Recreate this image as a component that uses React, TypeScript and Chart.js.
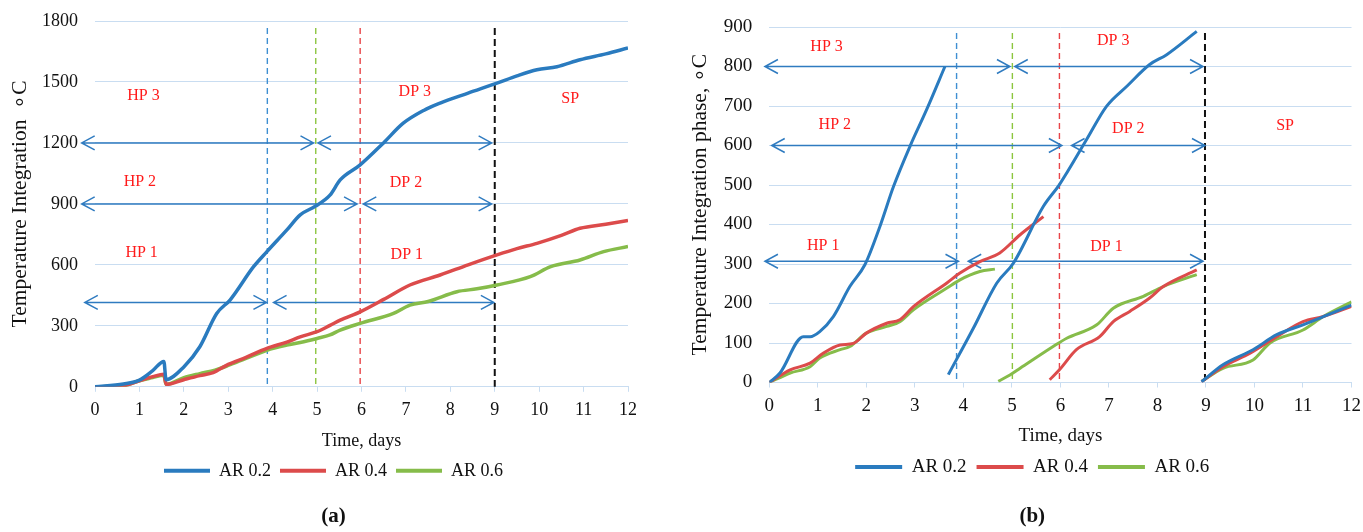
import React, { useEffect, useRef } from "react";
import { Chart, registerables } from "chart.js";

Chart.register(...registerables);

const FONT = "'Liberation Serif', 'Times New Roman', serif";

// ---------- Shared ----------
const seriesNames = ["AR 0.2", "AR 0.4", "AR 0.6"];
const xTickMin = 0;
const xTickMax = 12;

// ---------- Chart (a) data ----------
const aX02 = [0, 0.64, 1.0, 1.3, 1.55, 1.6, 2.0, 2.36, 2.74, 3.04, 3.57, 3.87, 4.32, 4.62, 4.95, 5.29, 5.52, 5.97, 6.49, 6.94, 7.4, 7.77, 8.4, 9.05, 9.5, 9.95, 10.4, 10.92, 11.5, 12];
const aY02 = [0, 14, 33, 80, 125, 35, 98, 197, 361, 427, 591, 665, 772, 846, 887, 943, 1018, 1092, 1199, 1297, 1360, 1396, 1445, 1494, 1530, 1560, 1575, 1609, 1638, 1667];
const aX04 = [0, 0.64, 1.0, 1.3, 1.55, 1.6, 2.0, 2.36, 2.66, 3.0, 3.4, 3.87, 4.32, 4.62, 5.0, 5.29, 5.52, 5.97, 6.5, 7.09, 7.77, 8.4, 9.05, 9.5, 9.95, 10.5, 10.92, 11.5, 12];
const aY04 = [0, 6, 30, 50, 62, 12, 35, 55, 70, 110, 145, 189, 220, 246, 271, 302, 328, 369, 430, 501, 550, 600, 649, 680, 706, 745, 780, 800, 818];
const aX06 = [0, 0.64, 1.0, 1.3, 1.55, 1.6, 2.0, 2.36, 2.7, 3.0, 3.4, 3.87, 4.32, 4.62, 5.0, 5.29, 5.52, 5.97, 6.72, 7.09, 7.5, 8.15, 8.6, 9.05, 9.8, 10.26, 10.92, 11.45, 12];
const aY06 = [0, 5, 30, 45, 57, 12, 45, 65, 82, 105, 140, 180, 205, 218, 238, 255, 279, 312, 361, 402, 420, 468, 482, 501, 542, 591, 624, 665, 690];
const aYMax = 1800;
const aYStep = 300;
const aBoundaries = [3.88, 4.97, 5.97, 9.0];
const aBoundaryTop = 1765;
// arrows: [y, xStart, xEnd]
const aArrows = [
  [1200, -0.3, 4.92],
  [1200, 5.02, 8.93],
  [900, -0.3, 5.9],
  [900, 6.04, 8.93],
  [415, -0.23, 3.86],
  [415, 4.02, 8.98],
];
const aLabelText = ["HP 3", "HP 2", "HP 1", "DP 3", "DP 2", "DP 1", "SP"];
const aLabelX = [1.09, 1.01, 1.05, 7.2, 7.0, 7.02, 10.7];
const aLabelY = [1432, 1010, 657, 1453, 1002, 649, 1416];

// ---------- Chart (b) data ----------
const bX02 = [0, 0.22, 0.7, 0.84, 1.04, 1.32, 1.66, 1.97, 2.28, 2.56, 2.9, 3.24, 3.62, 3.65, 3.69, 4.2, 4.69, 5.03, 5.65, 5.98, 6.54, 6.95, 7.37, 7.84, 8.19, 8.81, 8.86, 8.91, 9.35, 9.97, 10.46, 11.0, 11.42, 12.0];
const bY02 = [0, 24, 116, 116, 129, 167, 243, 298, 395, 496, 598, 690, 800, null, 20, 136, 252, 302, 446, 501, 615, 699, 750, 805, 830, 889, null, 2, 45, 83, 121, 146, 167, 196];
const bX04 = [0, 0.43, 0.84, 1.11, 1.46, 1.73, 2.0, 2.42, 2.69, 2.97, 3.66, 3.93, 4.34, 4.75, 5.17, 5.65, 5.7, 5.78, 5.98, 6.33, 6.81, 7.09, 7.43, 7.84, 8.12, 8.81, 8.86, 8.91, 9.35, 9.91, 10.46, 11.0, 11.42, 12.0];
const bY04 = [0, 32, 49, 74, 95, 99, 125, 150, 159, 192, 252, 277, 306, 328, 374, 420, null, 7, 32, 83, 116, 154, 180, 214, 243, 285, null, 2, 40, 74, 116, 154, 167, 193];
const bX06 = [0, 0.43, 0.84, 1.04, 1.46, 1.66, 2.0, 2.42, 2.69, 2.97, 3.66, 3.93, 4.34, 4.65, 4.68, 4.72, 4.96, 5.17, 5.85, 6.13, 6.75, 7.09, 7.71, 8.12, 8.81, 8.86, 8.91, 9.35, 9.97, 10.32, 11.0, 11.42, 12.0];
const bY06 = [0, 24, 40, 62, 83, 91, 125, 142, 154, 184, 239, 260, 281, 287, null, 3, 19, 36, 91, 112, 146, 188, 218, 243, 273, null, 3, 36, 57, 100, 133, 167, 204];
const bYMax = 900;
const bYStep = 100;
const bBoundaries = [3.86, 5.01, 5.98, 8.98];
const bBoundaryTop = 885;
const bArrows = [
  [800, -0.09, 4.96],
  [800, 5.06, 8.94],
  [600, 0.05, 6.03],
  [600, 6.23, 8.98],
  [307, -0.09, 3.9],
  [307, 4.1, 8.94],
];
const bLabelText = ["HP 3", "HP 2", "HP 1", "DP 3", "DP 2", "DP 1", "SP"];
const bLabelX = [1.18, 1.35, 1.11, 7.09, 7.4, 6.95, 10.63];
const bLabelY = [851, 653, 346, 864, 642, 344, 650];

// ---------- Styles ----------
const lineColors = ["#2a7bbf", "#dc4b4b", "#86bc4a"];
const boundaryColors = ["#3f8fd2", "#8cc63f", "#e8454a", "#111111"];
const arrowColor = "#2f7bc0";
const gridColor = "#c9ddf1";
const labelColor = "#ff1a1a";

function pts(xs: number[], ys: (number | null)[]) {
  return xs.map((x, i) => ({ x, y: ys[i] }));
}

const annotationPlugin = {
  id: "phaseAnnotations",
  beforeDatasetsDraw(chart: any, _args: any, opts: any) {
    const { ctx } = chart;
    const xs = chart.scales.x;
    const ys = chart.scales.y;
    ctx.save();
    opts.boundaries.forEach((bx: number, i: number) => {
      const px = xs.getPixelForValue(bx);
      ctx.beginPath();
      ctx.setLineDash(i === 3 ? [7, 4] : [6, 4]);
      ctx.lineWidth = i === 3 ? 2 : 1.4;
      ctx.strokeStyle = boundaryColors[i];
      ctx.moveTo(px, ys.getPixelForValue(opts.top));
      ctx.lineTo(px, ys.getPixelForValue(0));
      ctx.stroke();
    });
    ctx.setLineDash([]);
    ctx.strokeStyle = arrowColor;
    ctx.lineWidth = 1.5;
    const hl = 13;
    const hw = 7;
    opts.arrows.forEach((a: number[]) => {
      const py = ys.getPixelForValue(a[0]);
      const p1 = xs.getPixelForValue(a[1]);
      const p2 = xs.getPixelForValue(a[2]);
      ctx.beginPath();
      ctx.moveTo(p1, py);
      ctx.lineTo(p2, py);
      ctx.moveTo(p1 + hl, py - hw);
      ctx.lineTo(p1, py);
      ctx.lineTo(p1 + hl, py + hw);
      ctx.moveTo(p2 - hl, py - hw);
      ctx.lineTo(p2, py);
      ctx.lineTo(p2 - hl, py + hw);
      ctx.stroke();
    });
    ctx.fillStyle = labelColor;
    ctx.font = `16px ${FONT}`;
    ctx.textAlign = "center";
    ctx.textBaseline = "middle";
    opts.labelText.forEach((t: string, i: number) => {
      ctx.fillText(t, xs.getPixelForValue(opts.labelX[i]), ys.getPixelForValue(opts.labelY[i]));
    });
    ctx.restore();
  },
};

type Spec = {
  left: number;
  width: number;
  pad: { top: number; right: number; bottom: number; left: number };
  yWidth: number;
  xHeight: number;
  fontSize: number;
  xTickLineHeight: number;
  yTitleSize: number;
  yTitlePad: number;
  legendBox: number;
  legendPad: number;
  titlePadTop: number;
  xTitlePadBottom: number;
  yMax: number;
  yStep: number;
  yTitle: string;
  caption: string;
  series: { xs: number[]; ys: (number | null)[] }[];
  lineWidth: number;
  ann: any;
};

function PanelChart({ spec }: { spec: Spec }) {
  const ref = useRef<HTMLCanvasElement | null>(null);
  useEffect(() => {
    if (!ref.current) return;
    const chart = new Chart(ref.current, {
      type: "line",
      data: {
        datasets: spec.series.map((s, i) => ({
          label: seriesNames[i],
          data: pts(s.xs, s.ys),
          borderColor: lineColors[i],
          backgroundColor: lineColors[i],
          borderWidth: spec.lineWidth,
          pointRadius: 0,
          spanGaps: false,
          cubicInterpolationMode: "monotone",
          fill: false,
        })),
      },
      options: {
        animation: false,
        responsive: true,
        maintainAspectRatio: false,
        layout: { padding: spec.pad },
        scales: {
          x: {
            type: "linear",
            min: xTickMin,
            max: xTickMax,
            ticks: {
              stepSize: 1,
              color: "#111",
              font: { family: FONT, size: spec.fontSize, lineHeight: spec.xTickLineHeight },
              padding: 2,
              maxRotation: 0,
            },
            grid: { display: true, drawOnChartArea: false, drawTicks: true, tickLength: 5, color: gridColor },
            border: { display: true, color: gridColor },
            title: {
              display: true,
              text: "Time, days",
              color: "#111",
              font: { family: FONT, size: spec.fontSize },
              padding: { top: 0, bottom: spec.xTitlePadBottom },
            },
            afterFit: (scale: any) => {
              scale.height = spec.xHeight;
            },
          },
          y: {
            type: "linear",
            min: 0,
            max: spec.yMax,
            ticks: {
              stepSize: spec.yStep,
              color: "#111",
              font: { family: FONT, size: spec.fontSize },
              padding: 3,
              callback: (v: any) => String(v),
            },
            grid: { color: gridColor, drawTicks: true, tickLength: 14, tickColor: "rgba(0,0,0,0)", lineWidth: 1 },
            border: { display: false },
            title: {
              display: true,
              text: spec.yTitle,
              color: "#111",
              font: { family: FONT, size: spec.yTitleSize },
              padding: { top: spec.yTitlePad, bottom: 0 },
            },
            afterFit: (scale: any) => {
              scale.width = spec.yWidth;
            },
          },
        },
        plugins: {
          legend: {
            display: true,
            position: "bottom",
            labels: {
              color: "#111",
              font: { family: FONT, size: spec.fontSize },
              boxWidth: spec.legendBox,
              boxHeight: 4,
              padding: spec.legendPad,
              generateLabels: (c: any) =>
                Chart.defaults.plugins.legend.labels.generateLabels(c).map((l: any) => ({ ...l, lineWidth: 0 })),
            },
          },
          title: {
            display: true,
            position: "bottom",
            text: spec.caption,
            color: "#111",
            font: { family: FONT, size: 21, weight: "bold" },
            padding: { top: spec.titlePadTop, bottom: 0 },
          },
          tooltip: { enabled: false },
          phaseAnnotations: spec.ann,
        } as any,
      },
      plugins: [annotationPlugin],
    } as any);
    return () => chart.destroy();
  }, [spec]);
  return (
    <div style={{ position: "absolute", left: spec.left, top: 0, width: spec.width, height: 532 }}>
      <canvas ref={ref} />
    </div>
  );
}

const specA: Spec = {
  left: 0,
  width: 680,
  pad: { top: 21, right: 52, bottom: 3, left: 39 },
  yWidth: 56,
  xHeight: 66,
  fontSize: 18,
  xTickLineHeight: 1.8,
  yTitleSize: 21.5,
  yTitlePad: -31.9,
  legendBox: 46,
  legendPad: 9,
  titlePadTop: 14,
  xTitlePadBottom: 1,
  yMax: aYMax,
  yStep: aYStep,
  yTitle: "Temperature Integration  \u2218C",
  caption: "(a)",
  series: [
    { xs: aX02, ys: aY02 },
    { xs: aX04, ys: aY04 },
    { xs: aX06, ys: aY06 },
  ],
  lineWidth: 3.5,
  ann: { boundaries: aBoundaries, top: aBoundaryTop, arrows: aArrows, labelText: aLabelText, labelX: aLabelX, labelY: aLabelY },
};

const specB: Spec = {
  left: 680,
  width: 683,
  pad: { top: 27, right: 11, bottom: 3, left: 32.5 },
  yWidth: 56.8,
  xHeight: 65,
  fontSize: 19,
  xTickLineHeight: 1.74,
  yTitleSize: 21.5,
  yTitlePad: -25.4,
  legendBox: 47,
  legendPad: 10,
  titlePadTop: 17.3,
  xTitlePadBottom: 0,
  yMax: bYMax,
  yStep: bYStep,
  yTitle: "Temperature Integration phase, \u2218C",
  caption: "(b)",
  series: [
    { xs: bX02, ys: bY02 },
    { xs: bX04, ys: bY04 },
    { xs: bX06, ys: bY06 },
  ],
  lineWidth: 3,
  ann: { boundaries: bBoundaries, top: bBoundaryTop, arrows: bArrows, labelText: bLabelText, labelX: bLabelX, labelY: bLabelY },
};

export default function App() {
  return (
    <div style={{ position: "absolute", left: 0, top: 0, width: 1363, height: 532, background: "#fff" }}>
      <PanelChart spec={specA} />
      <PanelChart spec={specB} />
    </div>
  );
}
